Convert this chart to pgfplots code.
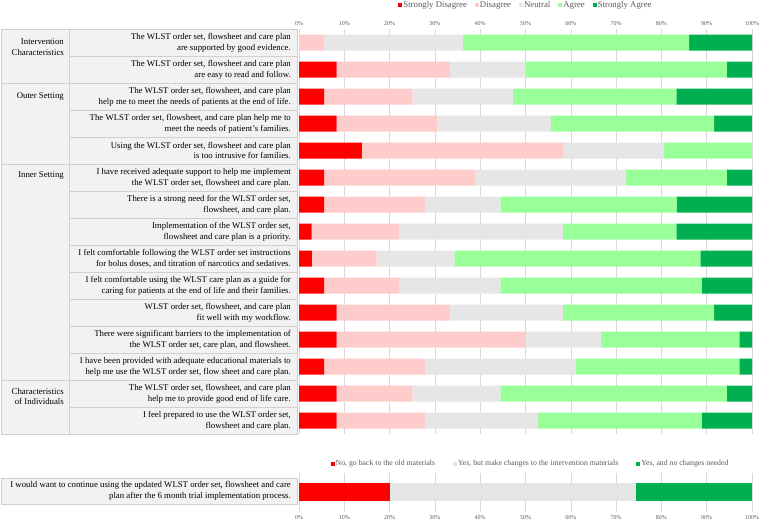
\documentclass[border=0pt]{standalone}
\usepackage{fontspec}
\setmainfont{Liberation Serif}
\usepackage{pgfplots}
\usepackage{pgfplotstable}
\pgfplotsset{compat=1.18}

\definecolor{sdis}{HTML}{FF0000}
\definecolor{dis}{HTML}{FFCCCC}
\definecolor{neu}{HTML}{E7E6E6}
\definecolor{agr}{HTML}{99FF99}
\definecolor{sagr}{HTML}{00B050}
\definecolor{gridc}{HTML}{D9D9D9}
\definecolor{tabfill}{HTML}{F2F2F2}
\definecolor{tabline}{HTML}{D0D0D0}
\definecolor{labc}{HTML}{595959}

% Share of responses (%) per statement, top to bottom
\pgfplotstableread{
row SD    D     N     A     SA
1   0     5.56  30.56 50.00 13.89
2   8.33  25.00 16.67 44.44 5.56
3   5.56  19.44 22.22 36.11 16.67
4   8.33  22.22 25.00 36.11 8.33
5   13.89 44.44 22.22 19.44 0
6   5.56  33.33 33.33 22.22 5.56
7   5.56  22.22 16.67 38.89 16.67
8   2.78  19.44 36.11 25.00 16.67
9   2.86  14.29 17.14 54.29 11.43
10  5.56  16.67 22.22 44.44 11.11
11  8.33  25.00 25.00 33.33 8.33
12  8.33  41.67 16.67 30.56 2.78
13  5.56  22.22 33.33 36.11 2.78
14  8.33  16.67 19.44 50.00 5.56
15  8.33  19.44 25.00 36.11 11.11
}\likert

% Continue using the materials?
\pgfplotstableread{
row No    YesChange YesNone
1   20.00 54.29     25.71
}\contdata

\newcommand\qfont{\fontsize{8.8}{11}\selectfont}

\begin{document}
\begin{tikzpicture}
\path[use as bounding box] (0,0) rectangle (760bp,522bp);

% ---- table of domains and statements ----
\begin{scope}[x=1bp,y=-1bp,shift={(0,522bp)}]
  \fill[tabfill] (1,29) rectangle (297,434);
  \draw[tabline] (1,29) rectangle (297,434);
  \draw[tabline] (69,29) -- (69,434);
  \foreach \yy in {83,164,380} \draw[tabline] (1,\yy) -- (297,\yy);
  \foreach \yy in {56,110,137,191,218,245,272,299,326,353,407}
    \draw[tabline] (69,\yy) -- (297,\yy);

  \begin{scope}[every node/.style={anchor=east, align=right, font=\qfont, inner sep=0pt}]
    \node at (64,47)    {Intervention\\Characteristics};
    \node at (64,97)    {Outer Setting};
    \node at (64,176)   {Inner Setting};
    \node at (64,396.5) {Characteristics\\of Individuals};

    \node at (291,42.5)  {The WLST order set, flowsheet and care plan\\are supported by good evidence.};
    \node at (291,69.5)  {The WLST order set, flowsheet and care plan\\are easy to read and follow.};
    \node at (291,96.5)  {The WLST order set, flowsheet, and care plan\\help me to meet the needs of patients at the end of life.};
    \node at (291,123.5) {The WLST order set, flowsheet, and care plan help me to\\meet the needs of patient's families.};
    \node at (291,150.5) {Using the WLST order set, flowsheet and care plan\\is too intrusive for families.};
    \node at (291,177.5) {I have received adequate support to help me implement\\the WLST order set, flowsheet and care plan.};
    \node at (291,204.5) {There is a strong need for the WLST order set,\\flowsheet, and care plan.};
    \node at (291,231.5) {Implementation of the WLST order set,\\flowsheet and care plan is a priority.};
    \node at (291,258.5) {I felt comfortable following the WLST order set instructions\\for bolus doses, and titration of narcotics and sedatives.};
    \node at (291,285.5) {I felt comfortable using the WLST care plan as a guide for\\caring for patients at the end of life and their families.};
    \node at (291,312.5) {WLST order set, flowsheet, and care plan\\fit well with my workflow.};
    \node at (291,339.5) {There were significant barriers to the implementation of\\the WLST order set, care plan, and flowsheet.};
    \node at (291,366.5) {I have been provided with adequate educational materials to\\help me use the WLST order set, flow sheet and care plan.};
    \node at (291,393.5) {The WLST order set, flowsheet, and care plan\\help me to provide good end of life care.};
    \node at (291,420.5) {I feel prepared to use the WLST order set,\\flowsheet and care plan.};
  \end{scope}

  \fill[tabfill] (1,478) rectangle (297,504);
  \draw[tabline] (1,478) rectangle (297,504);
  \node[anchor=east, align=right, font=\qfont, inner sep=0pt] at (291,491)
    {I would want to continue using the updated WLST order set, flowsheet and care\\plan after the 6 month trial implementation process.};
\end{scope}

\pgfplotsset{
  likertaxis/.style={
    scale only axis, width=453bp,
    xbar stacked,
    xmin=0, xmax=100,
    enlargelimits=false, clip=false,
    axis line style={draw=none},
    ytick=\empty,
    xtick={0,10,...,100},
    xticklabels={0\%,10\%,20\%,30\%,40\%,50\%,60\%,70\%,80\%,90\%,100\%},
    major tick length=0pt,
    xmajorgrids, grid style={gridc, line width=0.6bp},
    xticklabel style={font=\fontsize{6}{7}\selectfont, text=labc},
    legend image code/.code={\fill[##1] (0bp,-2bp) rectangle (4bp,2bp);},
  },
}

% ---- Likert bars ----
\begin{axis}[
  likertaxis,
  at={(299bp,88bp)}, anchor=south west,
  height=405bp, bar width=16bp,
  ymin=0.5, ymax=15.5, y dir=reverse,
  xticklabel pos=right,
  legend columns=5,
  legend style={draw=none, fill=none, at={(0.5,1.059)}, anchor=center,
    font=\fontsize{8.8}{10}\selectfont, text=labc,
    nodes={inner sep=1bp},
    /tikz/every even column/.append style={column sep=7bp}},
]
\addplot[fill=sdis, draw=none] table[x=SD, y=row] {\likert};
\addplot[fill=dis,  draw=none] table[x=D,  y=row] {\likert};
\addplot[fill=neu,  draw=none] table[x=N,  y=row] {\likert};
\addplot[fill=agr,  draw=none] table[x=A,  y=row] {\likert};
\addplot[fill=sagr, draw=none] table[x=SA, y=row] {\likert};
\legend{Strongly Disagree, Disagree, Neutral, Agree, Strongly Agree}
\end{axis}

% ---- continuation question ----
\begin{axis}[
  likertaxis,
  at={(299bp,10bp)}, anchor=south west,
  height=39bp, bar width=18bp,
  ymin=0.5, ymax=1.5,
  legend columns=3,
  legend style={draw=none, fill=none, at={(0.51,1.23)}, anchor=center,
    font=\fontsize{7.8}{9}\selectfont, text=labc,
    nodes={inner sep=1bp},
    /tikz/every even column/.append style={column sep=17bp}},
]
\addplot[fill=sdis, draw=none] table[x=No,        y=row] {\contdata};
\addplot[fill=neu,  draw=none] table[x=YesChange, y=row] {\contdata};
\addplot[fill=sagr, draw=none] table[x=YesNone,   y=row] {\contdata};
\legend{{No, go back to the old materials}, {Yes, but make changes to the intervention materials}, {Yes, and no changes needed}}
\end{axis}
\end{tikzpicture}
\end{document}
